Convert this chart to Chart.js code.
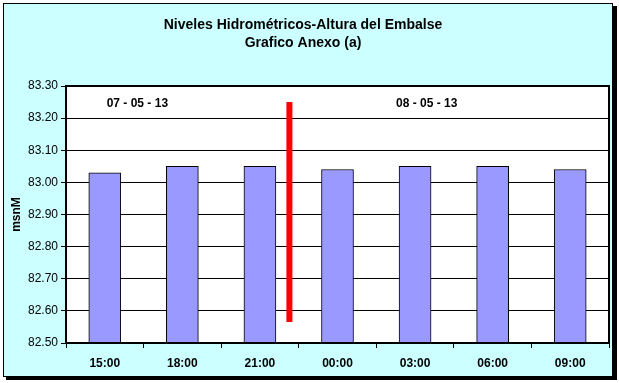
<!DOCTYPE html>
<html>
<head>
<meta charset="utf-8">
<script src="https://cdn.jsdelivr.net/npm/chart.js@4.4.1/dist/chart.umd.min.js"></script>
<style>
html,body{margin:0;padding:0;background:#fff;}
#wrap{width:619px;height:383px;position:relative;}
</style>
</head>
<body>
<div id="wrap"><canvas id="c" width="619" height="383"></canvas></div>
<script>
const categories = ['15:00','18:00','21:00','00:00','03:00','06:00','09:00'];
const levels = [83.03, 83.05, 83.05, 83.04, 83.05, 83.05, 83.04];
const yTicks = [82.50, 82.60, 82.70, 82.80, 82.90, 83.00, 83.10, 83.20, 83.30];
const titleLines = ['Niveles Hidrométricos-Altura del Embalse', 'Grafico Anexo (a)'];
const yAxisTitle = 'msnM';
const dayLabels = ['07 - 05 - 13', '08 - 05 - 13'];
const dayLabelX = [0.42, 4.15];
const dayLabelY = [83.245, 83.245];
const dayBreakX = [2.38, 2.38];
const dayBreakY = [83.25, 82.565];

const FONT = '"Liberation Sans", Arial, sans-serif';

const framePlugin = {
  id: 'frame',
  beforeDraw(chart) {
    const ctx = chart.ctx;
    ctx.save();
    ctx.fillStyle = '#000';
    ctx.fillRect(6, 6, 611, 374);
    ctx.fillStyle = '#CCFFFF';
    ctx.fillRect(3, 3, 610, 374);
    ctx.strokeStyle = '#000';
    ctx.lineWidth = 1;
    ctx.strokeRect(3.5, 3.5, 609, 373);
    const a = chart.chartArea;
    ctx.fillStyle = '#fff';
    ctx.fillRect(a.left, a.top, a.right - a.left, a.bottom - a.top);
    ctx.fillStyle = '#000';
    ctx.font = 'bold 14px ' + FONT;
    ctx.textAlign = 'center';
    ctx.textBaseline = 'middle';
    ctx.fillText(titleLines[0], 303, 25);
    ctx.fillText(titleLines[1], 303, 43);
    ctx.restore();
  },
  afterDatasetsDraw(chart) {
    const ctx = chart.ctx;
    const a = chart.chartArea;
    ctx.save();
    ctx.strokeStyle = '#000';
    ctx.lineWidth = 2;
    ctx.strokeRect(a.left, a.top, a.right - a.left, a.bottom - a.top);
    const xs = chart.scales.xl, ys = chart.scales.y;
    ctx.fillStyle = '#000';
    ctx.font = 'bold 12px ' + FONT;
    ctx.textAlign = 'center';
    ctx.textBaseline = 'middle';
    dayLabels.forEach((t, i) => {
      ctx.fillText(t, xs.getPixelForValue(dayLabelX[i]), ys.getPixelForValue(dayLabelY[i]));
    });
    ctx.restore();
  }
};

new Chart(document.getElementById('c'), {
  data: {
    labels: categories,
    datasets: [
      {
        type: 'bar',
        data: levels,
        backgroundColor: '#9999FF',
        borderColor: '#000',
        borderWidth: 1,
        borderSkipped: 'bottom',
        grouped: false,
        barThickness: 32,
        xAxisID: 'x',
        yAxisID: 'y',
        order: 2
      },
      {
        type: 'line',
        data: dayBreakX.map((x, i) => ({x: x, y: dayBreakY[i]})),
        borderColor: '#FF0000',
        borderWidth: 6,
        pointRadius: 0,
        borderCapStyle: 'butt',
        xAxisID: 'xl',
        yAxisID: 'y',
        order: 1
      }
    ]
  },
  options: {
    responsive: false,
    animation: false,
    devicePixelRatio: 1,
    layout: { padding: { top: 86, right: 10, left: 0, bottom: 0 } },
    plugins: { legend: { display: false }, title: { display: false }, tooltip: { enabled: false } },
    scales: {
      x: {
        type: 'category',
        position: 'bottom',
        offset: true,
        grid: { offset: true, drawOnChartArea: false, drawTicks: true, tickLength: 5, color: '#000', lineWidth: 1 },
        border: { display: true, color: '#000', width: 2 },
        ticks: { color: '#000', font: { family: FONT, size: 12, weight: 'bold' }, padding: 8, maxRotation: 0 },
        afterFit(s) { s.height = 40; }
      },
      xl: {
        type: 'linear',
        display: false,
        min: -0.5,
        max: 6.5
      },
      y: {
        type: 'linear',
        min: 82.5,
        max: 83.3,
        afterBuildTicks(s) { s.ticks = yTicks.map(v => ({ value: v })); },
        grid: { color: '#000', lineWidth: 1, drawTicks: true, tickLength: 5 },
        border: { display: true, color: '#000', width: 2 },
        ticks: {
          color: '#000',
          font: { family: FONT, size: 12 },
          padding: 3,
          callback: v => Number(v).toFixed(2)
        },
        title: { display: true, text: yAxisTitle, color: '#000', font: { family: FONT, size: 12, weight: 'bold' }, padding: { top: 9, bottom: 4 } },
        afterFit(s) { s.width = 66; }
      }
    }
  },
  plugins: [framePlugin]
});
</script>
</body>
</html>
